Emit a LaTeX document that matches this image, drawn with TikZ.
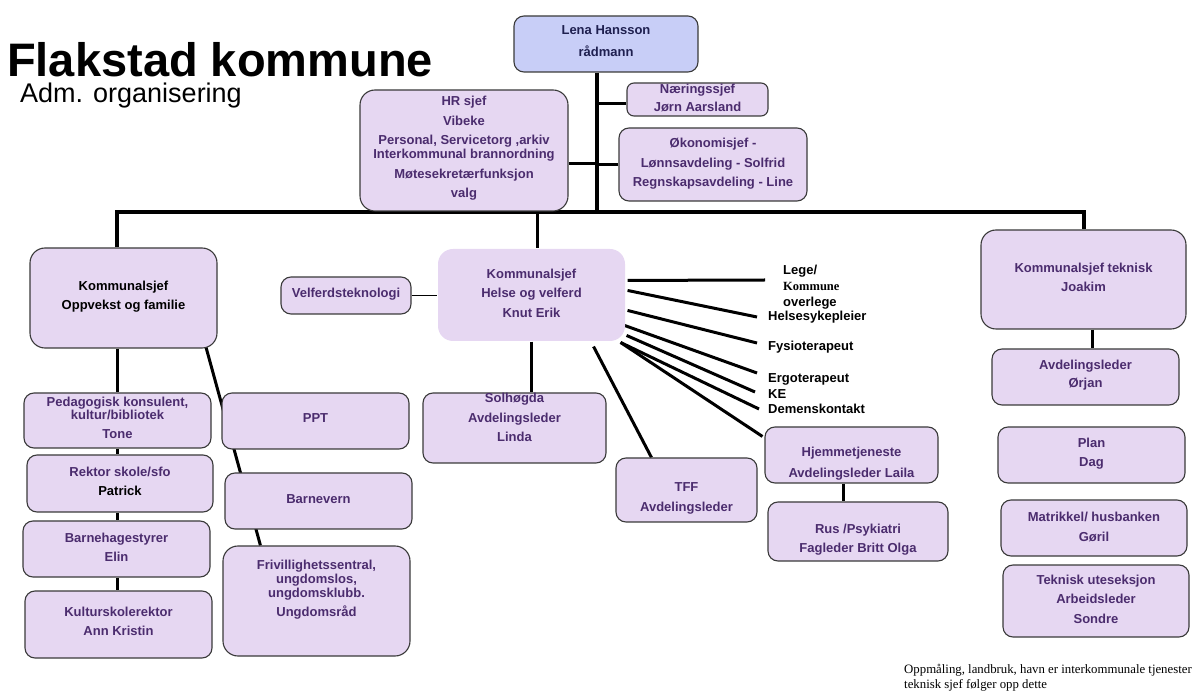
\documentclass[tikz,border=0pt]{standalone}
\usepackage{fontspec}
\setmainfont{Liberation Sans}
\newfontfamily\serifr{Liberation Serif}
\usetikzlibrary{calc,backgrounds}
\definecolor{lav}{HTML}{E6D7F2}
\definecolor{lenablue}{HTML}{C8CEF7}
\definecolor{txtp}{HTML}{4B2C6E}
\definecolor{txtn}{HTML}{1F2050}
\definecolor{edge}{HTML}{3A3A3A}
\tikzset{
  box/.style={draw=edge, line width=1.1pt, fill=lav, rounded corners=10pt, inner sep=0pt},
  bigbox/.style={box, rounded corners=15pt},
  btxt/.style={align=center, font=\bfseries\fontsize{13}{19.5}\selectfont, text=txtp, inner sep=0pt},
  lbl/.style={anchor=west, font=\bfseries\fontsize{13}{15}\selectfont, inner sep=0pt},
  conn/.style={line width=3pt},
}
\newcommand\mkbox[6]{%
  \pgfmathsetmacro\bw{#5-#3}\pgfmathsetmacro\bh{#6-#4}%
  \pgfmathsetmacro\bx{(#3+#5)/2}\pgfmathsetmacro\by{(#4+#6)/2}%
  \node[#1, minimum width=\bw pt, minimum height=\bh pt] (#2) at (\bx,\by) {};}
\begin{document}
\begin{tikzpicture}[x=1pt,y=-1pt]
\useasboundingbox (0,0) rectangle (1195,692);
\node[anchor=base west, inner sep=0pt, font=\bfseries\fontsize{47}{47}\selectfont] (title) at (7,77) {Flakstad kommune};
\node[anchor=base west, inner sep=0pt, font=\fontsize{27}{27}\selectfont] (sub) at (20,103) {Adm. organisering};

% top
\mkbox{box,fill=lenablue}{lena}{514}{16}{698}{72}
\node[btxt,text=txtn] (lenaT) at (606,41) {Lena Hansson\\[2.5pt]rådmann};
\mkbox{box,rounded corners=7pt}{naer}{627}{83}{768}{116}
\node[btxt] (naerT) at (697.5,98) {Næringssjef\\[-1.5pt]Jørn Aarsland};
\mkbox{box}{okon}{619}{128}{807}{201}
\node[btxt] (okonT) at (713,164) {Økonomisjef -\\Lønnsavdeling - Solfrid\\Regnskapsavdeling - Line};
\mkbox{bigbox}{hr}{360}{90}{568}{211}
\node[btxt] (hrT) at (464,148.5) {HR sjef\\Vibeke\\Personal, Servicetorg ,arkiv\\[-5.5pt]Interkommunal brannordning\\Møtesekretærfunksjon\\valg};

% middle level
\mkbox{bigbox}{opp}{30}{248}{217}{348}
\node[btxt,text=black] (oppT) at (123.5,296.5) {Kommunalsjef\\Oppvekst og familie};
\mkbox{box}{velf}{281}{277}{411}{314}
\node[btxt] (velfT) at (346,294) {Velferdsteknologi};
\mkbox{bigbox,draw=none}{helse}{438}{249}{625}{341}
\node[btxt] (helseT) at (531.5,293) {Kommunalsjef\\Helse og velferd\\Knut Erik};
\mkbox{bigbox}{tek}{981}{230}{1186}{329}
\node[btxt] (tekT) at (1083.5,277.5) {Kommunalsjef teknisk\\Joakim};

% helse subordinates
\mkbox{box}{sol}{423}{393}{606}{463}
\node[btxt] (solT) at (514.5,417.5) {Solhøgda\\Avdelingsleder\\Linda};
\mkbox{box}{tff}{616}{458}{757}{522}
\node[btxt] (tffT) at (686.5,498) {TFF\\[0.5pt]Avdelingsleder};
\mkbox{box}{hjem}{765}{427}{938}{483}
\node[btxt] (hjemT) at (851.5,463.5) {Hjemmetjeneste\\[1.5pt]Avdelingsleder Laila};
\mkbox{box}{rus}{768}{502}{948}{561}
\node[btxt] (rusT) at (858,539.5) {Rus /Psykiatri\\Fagleder Britt Olga};

% teknisk column
\mkbox{box}{orjan}{992}{349}{1179}{405}
\node[btxt] (orjanT) at (1085.5,375) {Avdelingsleder\\[-1.5pt]Ørjan};
\mkbox{box}{plan}{998}{427}{1185}{483}
\node[btxt] (planT) at (1091.5,453.5) {Plan\\Dag};
\mkbox{box}{matr}{1001}{500}{1187}{556}
\node[btxt] (matrT) at (1094,527) {Matrikkel/ husbanken\\Gøril};
\mkbox{box}{ute}{1003}{565}{1189}{637}
\node[btxt] (uteT) at (1096,599) {Teknisk uteseksjon\\Arbeidsleder\\Sondre};

% oppvekst column
\mkbox{box}{ped}{24}{393}{211}{448}
\node[btxt] (pedT) at (117.5,418) {Pedagogisk konsulent,\\[-7pt]kultur/bibliotek\\Tone};
\mkbox{box}{rek}{27}{455}{213}{512}
\node[btxt] (rekT) at (120,481.5) {Rektor skole/sfo\\\textcolor{black}{Patrick}};
\mkbox{box}{bhg}{23}{521}{210}{577}
\node[btxt] (bhgT) at (116.5,547.5) {Barnehagestyrer\\Elin};
\mkbox{box}{kult}{25}{591}{212}{658}
\node[btxt] (kultT) at (118.5,621.5) {Kulturskolerektor\\Ann Kristin};
\mkbox{box}{ppt}{222}{393}{409}{449}
\node[btxt] (pptT) at (315.5,418) {PPT};
\mkbox{box}{barn}{225}{473}{412}{529}
\node[btxt] (barnT) at (318.5,499) {Barnevern};
\mkbox{bigbox}{friv}{223}{546}{410}{656}
\node[btxt] (frivT) at (316.5,589.5) {Frivillighetssentral,\\[-5.5pt]ungdomslos,\\[-5.5pt]ungdomsklubb.\\[-0.5pt]Ungdomsråd};

% labels
\node[lbl, align=left, font=\bfseries\fontsize{13}{16}\selectfont] (lege) at (783,287) {Lege/\\{\serifr\bfseries\fontsize{12.5}{16}\selectfont Kommune}\\overlege};
\node[lbl] (hsyk) at (768,317) {Helsesykepleier};
\node[lbl] (fysio) at (768,347) {Fysioterapeut};
\node[lbl] (ergo) at (768,379) {Ergoterapeut};
\node[lbl] (ke) at (768,394) {KE};
\node[lbl] (demens) at (768,409) {Demenskontakt};

% footnote
\node[anchor=base west, inner sep=0pt, font=\serifr\fontsize{12.8}{14}\selectfont] (fn1) at (904,673) {Oppmåling, landbruk, havn er interkommunale tjenester};
\node[anchor=base west, inner sep=0pt, font=\serifr\fontsize{12.8}{14}\selectfont] (fn2) at (904,688) {teknisk sjef følger opp dette};

% connectors
\begin{pgfonlayer}{background}
\coordinate (busL) at (117,212);
\coordinate (busR) at (1084,212);
\coordinate (trB) at (597,212);
\coordinate (cx) at (117,0);
\draw[line width=4pt] ($(lena.south)+(-9,0)$) -- (trB);
\draw[line width=3.5pt, line join=miter] (busL |- opp.north) -- (busL) -- (busR) -- (busR |- tek.north);
\draw[conn] (naer.west) ++(0,4.5) coordinate (nA) -- (nA -| trB);
\draw[conn] (okon.west) -- (okon.west -| trB);
\draw[conn] (hr.east) ++(0,13.5) coordinate (hA) -- (hA -| trB);
\draw[conn] (hr.south east) ++(-31,0) coordinate (hB) -- (hB |- helse.north);
\draw[line width=1.2pt] (velf.east) -- (velf.east -| helse.west);
\draw[conn] (opp.south -| cx) -- (ped.north -| cx);
\draw[conn] (ped.south -| cx) -- (rek.north -| cx);
\draw[conn] (rek.south -| cx) -- (bhg.north -| cx);
\draw[conn] (bhg.south -| cx) -- (kult.north -| cx);
\draw[conn] ($(opp.south east)+(-12,-3)$) -- ($(friv.north west)+(38,0)$);
\draw[conn] ($(helse.north east)+(2,32)$) -- ($(lege.west)+(-18,-7)$);
\draw[conn] ($(helse.north east)+(2,42)$) -- ($(hsyk.west)+(-11,0)$);
\draw[conn] ($(helse.north east)+(2,62)$) -- ($(fysio.west)+(-11,-4)$);
\draw[conn] ($(helse.north east)+(-1,77)$) -- ($(ergo.west)+(-11,-6)$);
\draw[conn] ($(helse.north east)+(1,87)$) -- ($(ke.west)+(-13,-2)$);
\draw[conn] ($(helse.north east)+(-5,94)$) -- ($(demens.west)+(-9,0)$);
\draw[conn] ($(helse.north east)+(-5,94)$) -- ($(hjem.north west)+(-2,10)$);
\draw[conn] (helse.south) -- (helse.south |- sol.north);
\draw[conn] ($(helse.south east)+(-32,5)$) -- ($(tff.north west)+(36,0)$);
\draw[conn] (hjem.south) ++(-8,0) coordinate (hR) -- (hR |- rus.north);
\draw[conn] (tek.south) ++(8.5,0) coordinate (tO) -- (tO |- orjan.north);
\end{pgfonlayer}
\end{tikzpicture}
\end{document}
